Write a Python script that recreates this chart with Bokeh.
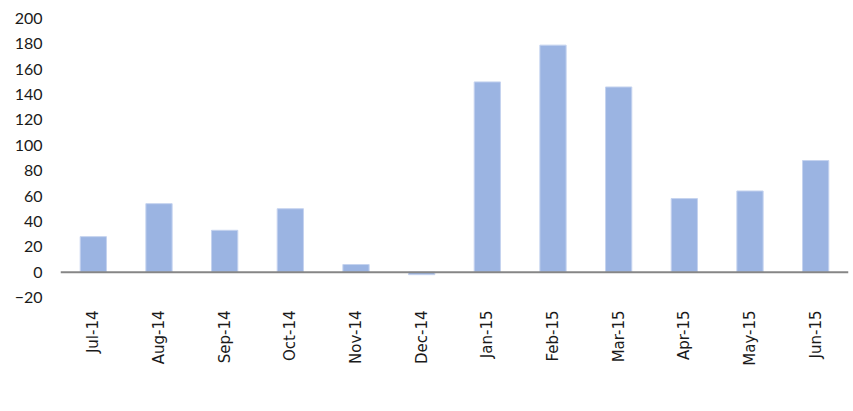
from bokeh.plotting import figure
from bokeh.models import Span, Legend, LegendItem, FixedTicker, Range1d
from bokeh.embed import file_html
from bokeh.resources import INLINE
import math

months = ["Jul-14", "Aug-14", "Sep-14", "Oct-14", "Nov-14", "Dec-14",
          "Jan-15", "Feb-15", "Mar-15", "Apr-15", "May-15", "Jun-15"]
values = [28, 54, 33, 50, 6, -2, 150, 179, 146, 58, 64, 88]
y_ticks = [-20, 0, 20, 40, 60, 80, 100, 120, 140, 160, 180, 200]
series_name = "Cedar County"

FONT = "Lato"
XFONT = "DejaVu Sans"

p = figure(x_range=months, y_range=Range1d(-20, 200),
           width=853, height=411,
           frame_width=788, frame_height=279,
           output_backend="svg", toolbar_location=None,
           min_border_left=60, min_border_right=5, min_border_top=18, min_border_bottom=0)

r = p.vbar(x=months, top=values, bottom=0, width=0.4,
           fill_color="#9BB4E2", line_color="#C5D3EF", line_width=1)

p.add_layout(Span(location=0, dimension="width", line_color="#868686", line_width=2))

p.xgrid.visible = False
p.ygrid.visible = False
p.outline_line_color = None

p.yaxis.ticker = FixedTicker(ticks=y_ticks)
p.yaxis.axis_line_color = None
p.yaxis.major_tick_line_color = None
p.yaxis.minor_tick_line_color = None
p.yaxis.major_tick_out = 0
p.yaxis.major_label_standoff = 18
p.yaxis.major_label_text_font = FONT
p.yaxis.major_label_text_font_size = "16px"
p.yaxis.major_label_text_color = "#1a1a1a"

p.xaxis.axis_line_color = None
p.xaxis.major_tick_line_color = None
p.xaxis.major_tick_out = 0
p.xaxis.major_label_orientation = math.pi / 2
p.xaxis.major_label_standoff = 13
p.xaxis.major_label_text_font = XFONT
p.xaxis.major_label_text_font_size = "15px"
p.xaxis.major_label_text_color = "#1a1a1a"

legend = Legend(items=[LegendItem(label=series_name, renderers=[r])],
                orientation="horizontal", location="center",
                label_text_font=FONT, label_text_font_size="16.5px",
                label_text_color="#1a1a1a",
                glyph_width=10, glyph_height=10, label_standoff=6,
                border_line_color=None, background_fill_alpha=0,
                margin=0, padding=0)
p.add_layout(legend, "below")

open("out.html", "w").write(file_html(p, INLINE))
